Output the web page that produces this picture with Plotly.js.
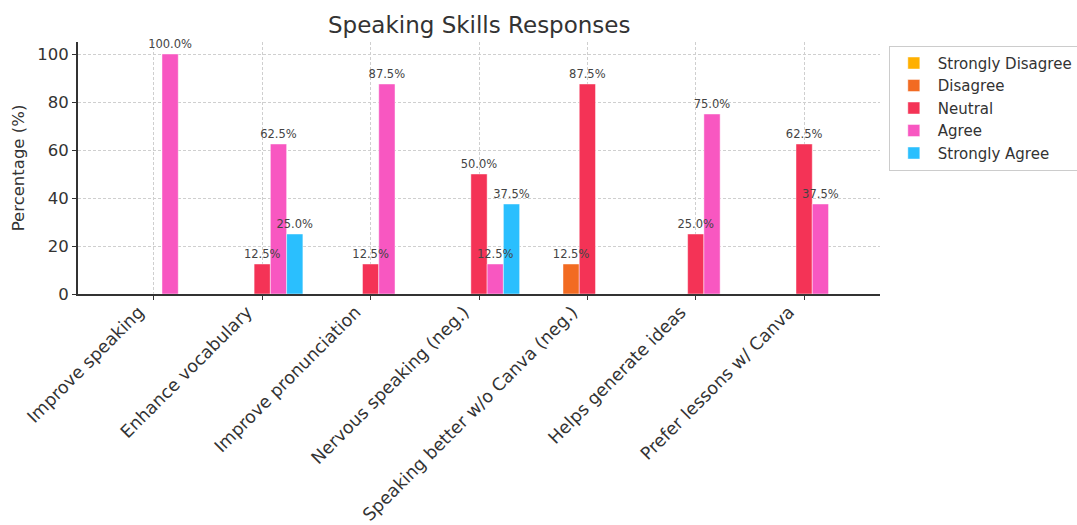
<!DOCTYPE html>
<html>
<head>
<meta charset="utf-8">
<script src="https://cdn.plot.ly/plotly-3.0.1.min.js"></script>
<style>html,body{margin:0;padding:0;background:#fff;}#chart{width:1077px;height:525px;}</style>
</head>
<body>
<div id="chart"></div>
<script>
const categories = ["Improve speaking", "Enhance vocabulary", "Improve pronunciation", "Nervous speaking (neg.)", "Speaking better w/o Canva (neg.)", "Helps generate ideas", "Prefer lessons w/ Canva"];
const seriesNames = ["Strongly Disagree", "Disagree", "Neutral", "Agree", "Strongly Agree"];
const stronglyDisagree = [0, 0, 0, 0, 0, 0, 0];
const disagree = [0, 0, 0, 0, 12.5, 0, 0];
const neutral = [0, 12.5, 12.5, 50, 87.5, 25, 62.5];
const agree = [100, 62.5, 87.5, 12.5, 0, 75, 37.5];
const stronglyAgree = [0, 25, 0, 37.5, 0, 0, 0];
const seriesColors = ["#FFB000", "#F26B22", "#F43356", "#F857C1", "#2ABFFE"];

const seriesValues = [stronglyDisagree, disagree, neutral, agree, stronglyAgree];
const font = "DejaVu Sans, sans-serif";

const barTraces = seriesValues.map((vals, i) => ({
  type: "bar",
  name: seriesNames[i],
  offsetgroup: seriesNames[i],
  x: categories,
  y: vals,
  marker: {color: seriesColors[i], line: {color: "rgba(255,255,255,0.45)", width: 1}},
  hoverinfo: "x+y+name"
}));

// label layer drawn after all bars so labels sit on top (as in the reference)
const labelTraces = seriesValues.map((vals, i) => ({
  type: "bar",
  name: seriesNames[i] + " labels",
  offsetgroup: seriesNames[i],
  showlegend: false,
  x: categories,
  y: vals,
  text: vals.map(v => v > 0 ? v.toFixed(1) + "%" : ""),
  textposition: "outside",
  cliponaxis: false,
  constraintext: "none",
  textfont: {family: font, size: 11.5, color: "#444"},
  marker: {color: "rgba(0,0,0,0)", line: {width: 0}},
  hoverinfo: "skip"
}));

const layout = {
  width: 1077, height: 525,
  margin: {l: 78, r: 197, t: 42, b: 231, autoexpand: false},
  paper_bgcolor: "#fff", plot_bgcolor: "#fff",
  font: {family: font, color: "#333"},
  barmode: "group",
  bargap: 0.25,
  bargroupgap: 0,
  title: {text: "Speaking Skills Responses", font: {family: font, size: 23, color: "#333"}, x: 0.445, xanchor: "center", yref: "container", y: 0.953, yanchor: "middle"},
  xaxis: {
    type: "category",
    range: [-0.7, 6.7],
    tickangle: -45,
    tickfont: {family: font, size: 17.5, color: "#333"},
    ticklabelshift: -15,
    ticklabelstandoff: -5,
    showgrid: true, gridcolor: "#cfcfcf", griddash: "3px,2px", gridwidth: 1,
    showline: true, linecolor: "#333", linewidth: 2,
    ticks: "outside", ticklen: 4, tickcolor: "#333",
    zeroline: false, automargin: false
  },
  yaxis: {
    range: [0, 105],
    dtick: 20,
    tickfont: {family: font, size: 16.5, color: "#333"},
    title: {text: "Percentage (%)", font: {family: font, size: 16.5, color: "#333"}, standoff: 8},
    showgrid: true, gridcolor: "#cfcfcf", griddash: "3px,2px", gridwidth: 1,
    showline: true, linecolor: "#333", linewidth: 2,
    ticks: "outside", ticklen: 4, tickcolor: "#333",
    zeroline: false, automargin: false
  },
  legend: {
    x: 1.011, xanchor: "left", y: 0.985, yanchor: "top",
    bgcolor: "#fff", bordercolor: "#ccc", borderwidth: 1,
    font: {family: font, size: 15, color: "#333"},
    itemwidth: 38,
    tracegroupgap: 0
  },
  showlegend: true
};

Plotly.newPlot("chart", barTraces.concat(labelTraces), layout, {displayModeBar: false, staticPlot: true});
</script>
</body>
</html>
